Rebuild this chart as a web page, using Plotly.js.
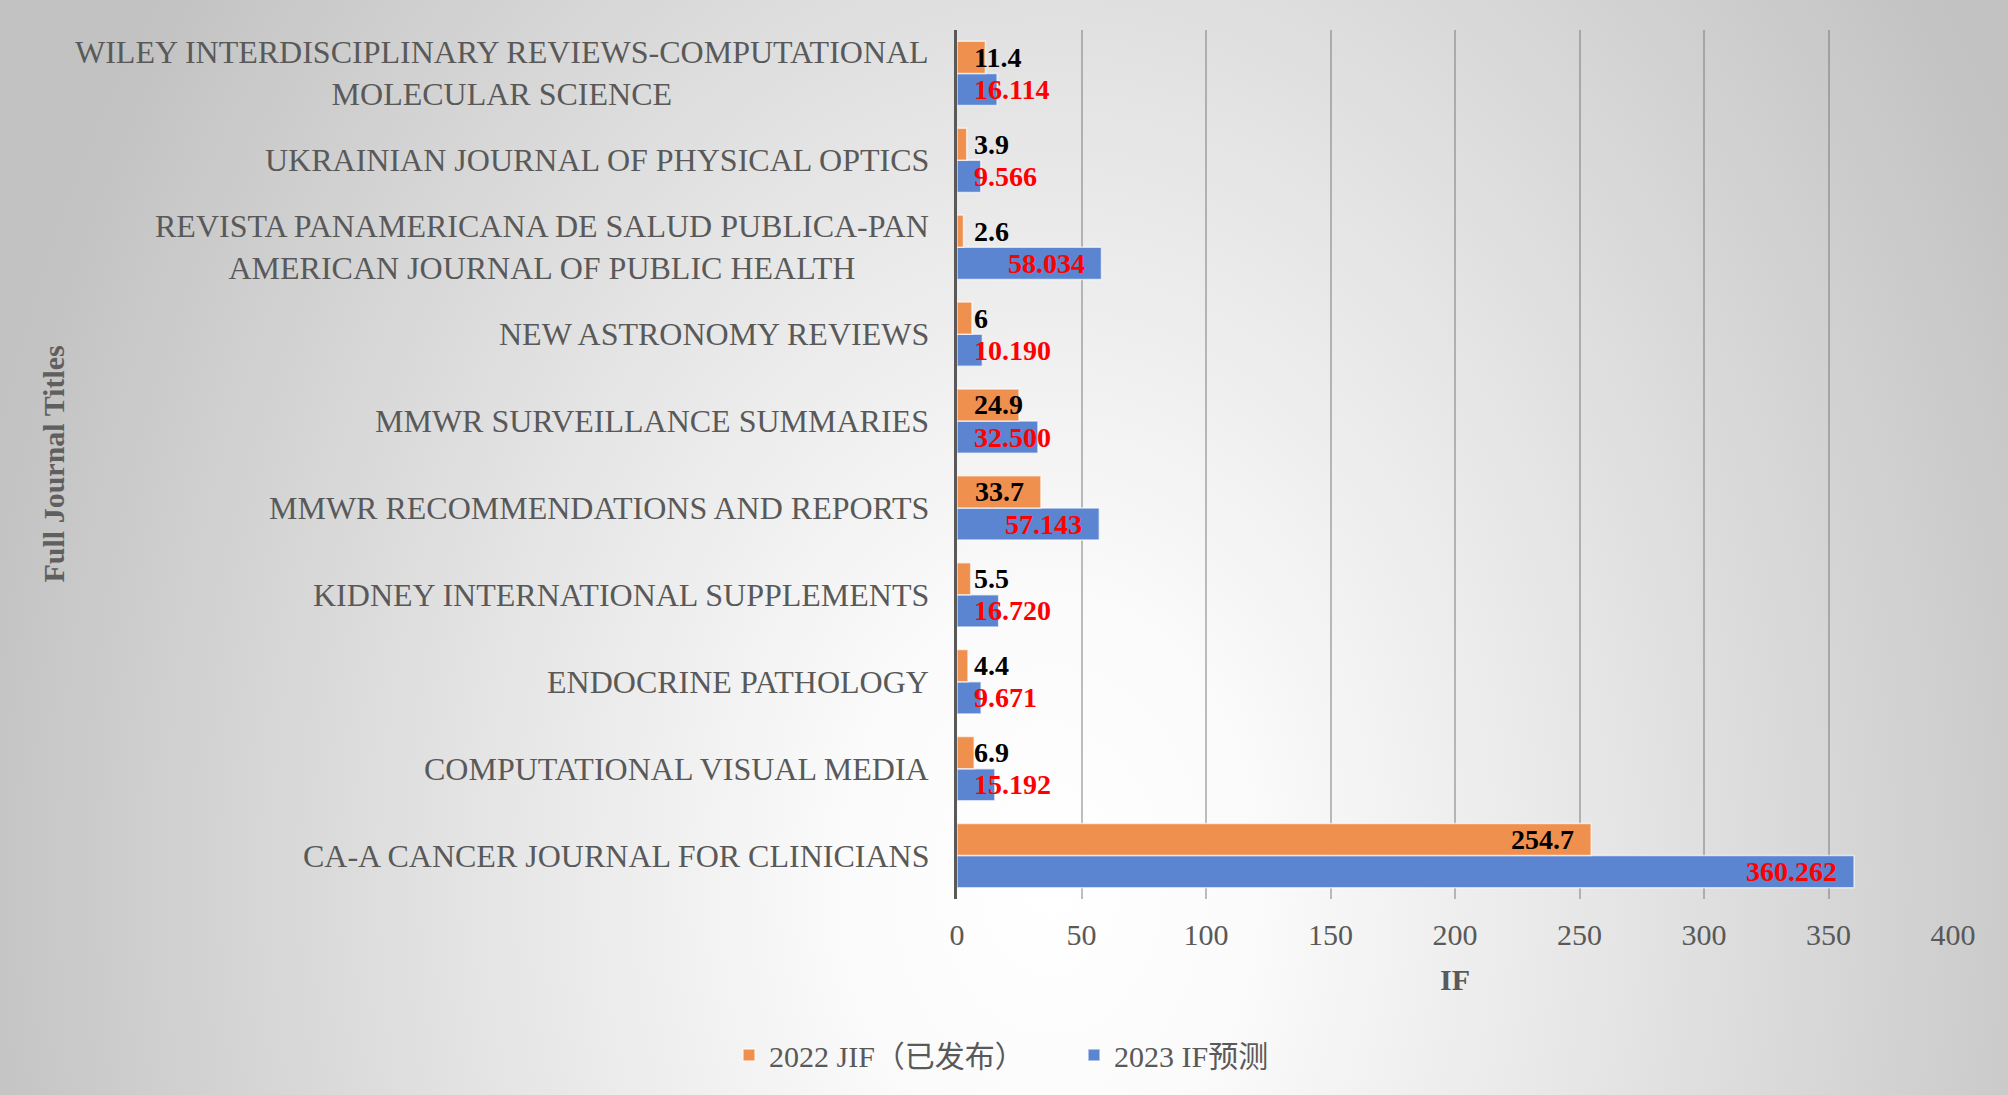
<!DOCTYPE html>
<html>
<head>
<meta charset="utf-8">
<script src="https://cdn.plot.ly/plotly-3.0.1.min.js"></script>
<style>
html,body{margin:0;padding:0;}
#chart{width:2008px;height:1095px;
  background:radial-gradient(1100px 1500px at 1050px 880px, #ffffff 0%, #fbfbfb 18%, #e6e6e6 50%, #c2c2c2 100%);}
</style>
</head>
<body>
<div id="chart"></div>
<script>
// Categories, bottom to top
const journals = [
  'CA-A CANCER JOURNAL FOR CLINICIANS',
  'COMPUTATIONAL VISUAL MEDIA',
  'ENDOCRINE PATHOLOGY',
  'KIDNEY INTERNATIONAL SUPPLEMENTS',
  'MMWR RECOMMENDATIONS AND REPORTS',
  'MMWR SURVEILLANCE SUMMARIES',
  'NEW ASTRONOMY REVIEWS',
  'REVISTA PANAMERICANA DE SALUD PUBLICA-PAN AMERICAN JOURNAL OF PUBLIC HEALTH',
  'UKRAINIAN JOURNAL OF PHYSICAL OPTICS',
  'WILEY INTERDISCIPLINARY REVIEWS-COMPUTATIONAL MOLECULAR SCIENCE'
];
const journalLabels = [
  'CA-A CANCER JOURNAL FOR CLINICIANS',
  'COMPUTATIONAL VISUAL MEDIA',
  'ENDOCRINE PATHOLOGY',
  'KIDNEY INTERNATIONAL SUPPLEMENTS',
  'MMWR RECOMMENDATIONS AND REPORTS',
  'MMWR SURVEILLANCE SUMMARIES',
  'NEW ASTRONOMY REVIEWS',
  'REVISTA PANAMERICANA DE SALUD PUBLICA-PAN<br>AMERICAN JOURNAL OF PUBLIC HEALTH',
  'UKRAINIAN JOURNAL OF PHYSICAL OPTICS',
  'WILEY INTERDISCIPLINARY REVIEWS-COMPUTATIONAL<br>MOLECULAR SCIENCE'
];
const jif2022 = [254.7, 6.9, 4.4, 5.5, 33.7, 24.9, 6, 2.6, 3.9, 11.4];
const if2023  = [360.262, 15.192, 9.671, 16.720, 57.143, 32.500, 10.190, 58.034, 9.566, 16.114];
const text2022 = jif2022.map(v => String(v));
const text2023 = if2023.map(v => v.toFixed(3));
const xTicks = [0, 50, 100, 150, 200, 250, 300, 350, 400];

const seriesNames = ['2022 JIF（已发布）', '2023 IF预测'];
const colOrange = '#F0904F';
const colBlue = '#5B85D1';
const serif = 'Liberation Serif, Times New Roman, Noto Sans CJK SC, serif';

const W = 2008, H = 1095;
const M = {l: 957, r: 55, t: 30, b: 196};
const xMax = 400;
const pxPerUnit = (W - M.l - M.r) / xMax;
const bargap = 0.26;
const off = (1 - bargap) / 4;   // centre offset of each bar in a group

const labelSize = 28;
function textWidth(s) {
  let w = 0;
  for (const c of s) w += (c === '.') ? 0.25 : 0.5;
  return w * labelSize;
}

const annotations = [];
function addLabels(vals, texts, yOffset, color) {
  vals.forEach((v, i) => {
    const barPx = v * pxPerUnit;
    const tw = textWidth(texts[i]);
    const fits = barPx - 16 - tw >= 16;
    annotations.push({
      xref: 'x', yref: 'y',
      x: fits ? v : 0,
      y: i + yOffset,
      xanchor: fits ? 'right' : 'left',
      xshift: fits ? -15 : 15,
      yanchor: 'middle',
      text: '<b>' + texts[i] + '</b>',
      showarrow: false,
      font: {family: serif, size: labelSize, color: color}
    });
  });
}
addLabels(jif2022, text2022, off, '#000000');
addLabels(if2023, text2023, -off, '#FF0000');

journals.forEach((j, i) => {
  annotations.push({
    xref: 'paper', yref: 'y',
    x: 0, y: j,
    xanchor: 'right', yanchor: 'middle',
    xshift: -26, align: 'center',
    text: journalLabels[i],
    showarrow: false,
    font: {family: serif, size: 32, color: '#595959'}
  });
});

annotations.push({
  xref: 'paper', yref: 'paper',
  x: (53 - M.l) / (W - M.l - M.r), y: 0.5,
  xanchor: 'center', yanchor: 'middle',
  textangle: -90,
  text: '<b>Full Journal Titles</b>',
  showarrow: false,
  font: {family: serif, size: 30, color: '#5f5f5f'}
});

const traces = [
  {
    type: 'bar', orientation: 'h',
    name: seriesNames[1], y: journals, x: if2023,
    marker: {color: colBlue, line: {color: 'rgba(255,255,255,0.65)', width: 1.5}},
    legendrank: 2, hoverinfo: 'x'
  },
  {
    type: 'bar', orientation: 'h',
    name: seriesNames[0], y: journals, x: jif2022,
    marker: {color: colOrange, line: {color: 'rgba(255,255,255,0.65)', width: 1.5}},
    legendrank: 1, hoverinfo: 'x'
  }
];

const layout = {
  width: W, height: H,
  margin: M,
  paper_bgcolor: 'rgba(0,0,0,0)',
  plot_bgcolor: 'rgba(0,0,0,0)',
  barmode: 'group',
  bargap: bargap,
  bargroupgap: 0,
  showlegend: true,
  font: {family: serif, color: '#595959'},
  xaxis: {
    range: [0, xMax],
    tickmode: 'array', tickvals: xTicks,
    ticks: 'outside', ticklen: 9, tickcolor: 'rgba(0,0,0,0)',
    tickfont: {family: serif, size: 30, color: '#595959'},
    showgrid: true, gridcolor: 'rgba(110,110,110,0.45)', gridwidth: 2,
    zeroline: false, showline: false,
    title: {text: '<b>IF</b>', font: {family: serif, size: 30, color: '#595959'}, standoff: 18},
    automargin: false, fixedrange: true
  },
  yaxis: {
    type: 'category',
    categoryorder: 'array', categoryarray: journals,
    showticklabels: false, ticks: '',
    showgrid: false, zeroline: false,
    showline: true, linecolor: '#595959', linewidth: 3,
    automargin: false, fixedrange: true
  },
  legend: {
    orientation: 'h',
    x: (1074 - M.l) / (W - M.l - M.r), xanchor: 'center',
    y: (H - M.b - 1055) / (H - M.t - M.b), yanchor: 'middle',
    font: {family: serif, size: 30, color: '#595959'},
    bgcolor: 'rgba(0,0,0,0)',
    itemwidth: 30,
    entrywidth: 300, entrywidthmode: 'pixels',
    traceorder: 'normal'
  },
  annotations: annotations
};

Plotly.newPlot('chart', traces, layout, {displayModeBar: false, staticPlot: true});
</script>
</body>
</html>
